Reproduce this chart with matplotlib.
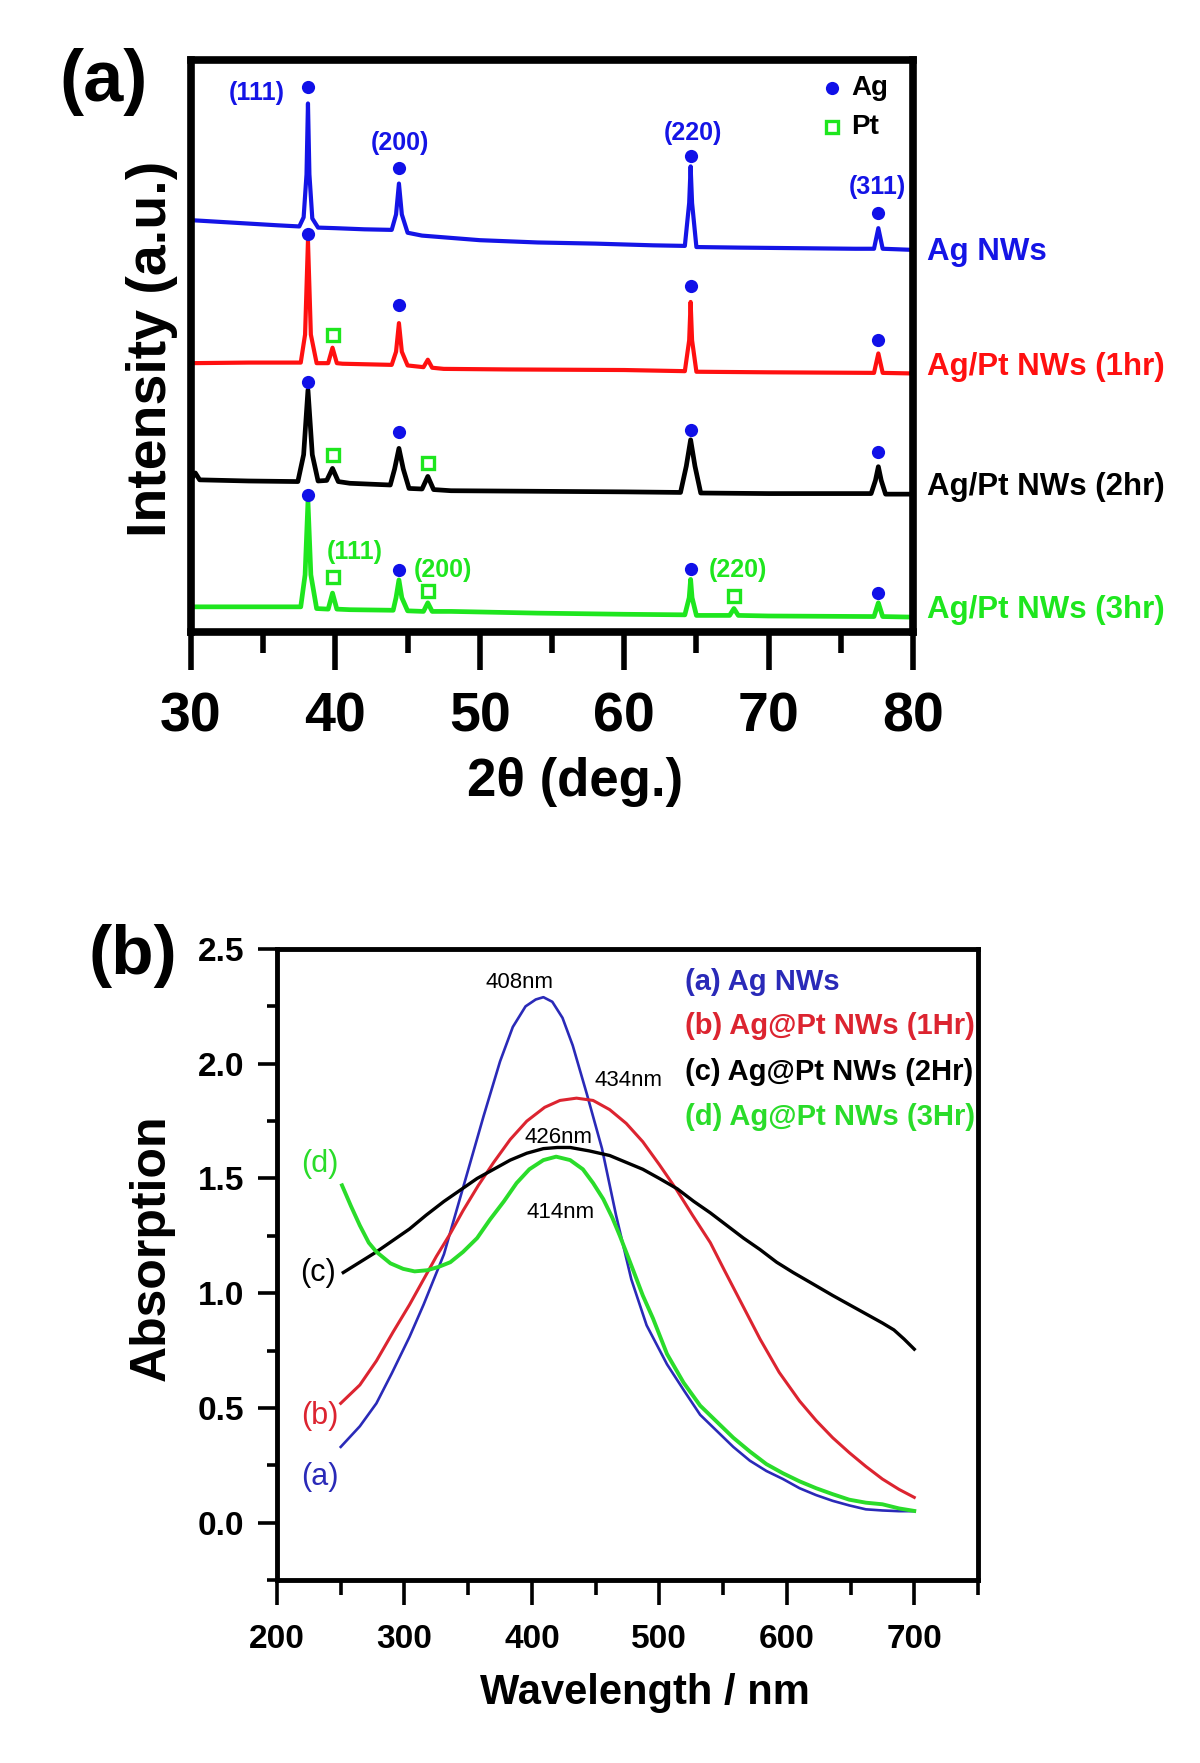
import matplotlib
matplotlib.use('Agg')
import matplotlib.pyplot as plt
from matplotlib.ticker import MultipleLocator, FormatStrFormatter

plt.rcParams['font.family'] = ['Liberation Sans', 'DejaVu Sans']

# ---------------- (a) XRD traces, vertices ----------------
# intensities are stacked arbitrary units (0..100 over the frame)
tth_ag = [30, 32, 34, 36, 37.5, 37.8, 38.0, 38.1, 38.2, 38.4, 38.8, 40, 42, 43.9, 44.2, 44.4, 44.6,
          45.0, 46, 48, 50, 54, 58, 62, 64.2, 64.5, 64.6, 64.7, 65.0, 68, 72, 76, 77.3, 77.6, 77.9, 79, 80]
int_ag = [72.0, 71.7, 71.4, 71.1, 70.9, 72.5, 80, 92.4, 80, 72.3, 70.7, 70.6, 70.4, 70.3, 73, 78.4, 73,
          69.8, 69.3, 68.9, 68.5, 68.1, 67.9, 67.6, 67.5, 75, 81.4, 75, 67.3, 67.2, 67.1, 67.0, 67.0, 70.6, 67.0, 66.9, 66.8]

tth_1h = [30, 34, 37.6, 37.9, 38.1, 38.3, 38.7, 39.5, 39.8, 40.1, 40.5, 43.9, 44.2, 44.4, 44.6, 45.0,
          46.1, 46.4, 46.7, 47.5, 52, 60, 64.2, 64.5, 64.6, 64.7, 65.0, 70, 77.3, 77.6, 77.9, 80]
int_1h = [47.0, 47.1, 47.1, 52, 68.4, 52, 47.0, 47.0, 49.7, 47.0, 46.9, 46.7, 49, 54.0, 49, 46.6,
          46.3, 47.6, 46.2, 46.0, 45.9, 45.8, 45.6, 51, 57.7, 51, 45.5, 45.4, 45.3, 48.7, 45.3, 45.2]

tth_2h = [30, 30.3, 30.6, 34, 37.4, 37.8, 38.1, 38.4, 38.8, 39.4, 39.8, 40.2, 41, 43.8, 44.1, 44.4, 44.7,
          45.1, 46.0, 46.4, 46.8, 48, 54, 60, 63.9, 64.3, 64.6, 64.9, 65.3, 70, 77.1, 77.4, 77.6, 77.8, 78.1, 80]
int_2h = [26.6, 27.8, 26.6, 26.4, 26.3, 31, 42.3, 31, 26.4, 26.5, 28.6, 26.3, 26.0, 25.7, 28.5, 32.1, 28.5,
          25.1, 25.0, 27.2, 24.9, 24.7, 24.6, 24.5, 24.4, 29, 33.6, 29, 24.3, 24.2, 24.2, 26.5, 28.9, 26.5, 24.1, 24.1]

tth_3h = [30, 34, 37.6, 37.9, 38.1, 38.3, 38.7, 39.5, 39.8, 40.1, 41, 44.0, 44.2, 44.4, 44.6, 45.0,
          46.1, 46.4, 46.7, 48, 54, 60, 64.2, 64.5, 64.6, 64.7, 65.0, 67.3, 67.6, 67.9, 70, 77.3, 77.6, 77.9, 80]
int_3h = [4.4, 4.4, 4.4, 10, 22.8, 10, 4.1, 4.0, 6.8, 4.0, 3.9, 3.8, 6, 9.1, 6, 3.7,
          3.6, 5.1, 3.6, 3.6, 3.3, 3.1, 3.0, 6, 9.2, 6, 2.9, 2.9, 4.1, 2.9, 2.8, 2.7, 5.1, 2.7, 2.6]

ag_pos = [38.1, 44.4, 64.6, 77.6]
dot_ag = [95.3, 81.2, 83.3, 73.2]
dot_1h = [69.6, 57.2, 60.5, 51.0]
dot_2h = [43.7, 35.0, 35.3, 31.5]
dot_3h = [24.0, 10.8, 11.1, 6.8]

pt_pos_1h, sq_1h = [39.8], [51.9]
pt_pos_2h, sq_2h = [39.8, 46.4], [30.9, 29.5]
pt_pos_3h, sq_3h = [39.8, 46.4, 67.6], [9.7, 7.2, 6.3]

xrd_names = ['Ag NWs', 'Ag/Pt NWs (1hr)', 'Ag/Pt NWs (2hr)', 'Ag/Pt NWs (3hr)']

# ---------------- (b) UV-vis absorption ----------------
wl_a = [250, 265, 278, 290, 304, 315, 323, 331, 346, 362, 375, 385, 395, 403, 409, 416, 424, 432, 443,
        455, 466, 478, 490, 506, 520, 532, 545, 558, 571, 584, 597, 610, 623, 636, 649, 662, 675, 688, 700]
abs_a = [0.33, 0.42, 0.52, 0.65, 0.81, 0.95, 1.06, 1.17, 1.46, 1.77, 2.01, 2.16, 2.25, 2.28, 2.29, 2.27, 2.20, 2.08, 1.87,
         1.63, 1.34, 1.06, 0.86, 0.69, 0.57, 0.47, 0.40, 0.33, 0.27, 0.225, 0.19, 0.15, 0.12, 0.095, 0.075, 0.058, 0.053, 0.05, 0.05]

wl_b = [250, 265, 278, 291, 304, 315, 325, 336, 346, 358, 370, 383, 396, 410, 422, 435, 448, 461, 474,
        487, 500, 513, 526, 540, 551, 565, 579, 594, 610, 623, 636, 649, 662, 675, 688, 700]
abs_b = [0.52, 0.60, 0.705, 0.83, 0.95, 1.06, 1.16, 1.26, 1.36, 1.47, 1.57, 1.67, 1.75, 1.81, 1.84, 1.85, 1.84, 1.80, 1.74,
         1.66, 1.56, 1.455, 1.34, 1.22, 1.10, 0.95, 0.80, 0.655, 0.53, 0.445, 0.37, 0.305, 0.245, 0.19, 0.145, 0.11]

wl_c = [252, 265, 278, 291, 304, 317, 331, 344, 357, 370, 383, 396, 409, 420, 430, 445, 461, 474, 487, 500,
        514, 527, 540, 553, 566, 579, 592, 605, 619, 636, 649, 662, 675, 684, 692, 700]
abs_c = [1.09, 1.135, 1.18, 1.23, 1.28, 1.34, 1.40, 1.45, 1.50, 1.54, 1.58, 1.61, 1.63, 1.635, 1.635, 1.62, 1.60, 1.57, 1.54, 1.50,
         1.455, 1.40, 1.35, 1.295, 1.24, 1.19, 1.135, 1.09, 1.045, 0.99, 0.95, 0.91, 0.87, 0.84, 0.80, 0.756]

wl_d = [251, 258, 265, 272, 278, 289, 299, 308, 318, 327, 336, 346, 357, 367, 378, 388, 398, 409, 419, 430,
        440, 448, 456, 463, 469, 476, 482, 487, 495, 506, 519, 532, 545, 558, 571, 584, 597, 610, 623, 636,
        649, 662, 675, 688, 700]
abs_d = [1.47, 1.38, 1.295, 1.22, 1.18, 1.13, 1.106, 1.095, 1.10, 1.115, 1.135, 1.18, 1.24, 1.32, 1.40, 1.48, 1.54, 1.58, 1.595, 1.58,
         1.54, 1.48, 1.41, 1.33, 1.25, 1.15, 1.063, 0.99, 0.89, 0.735, 0.61, 0.51, 0.44, 0.37, 0.31, 0.255, 0.215, 0.18, 0.15, 0.124,
         0.10, 0.087, 0.08, 0.062, 0.051]

uv_names = ['(a) Ag NWs', '(b) Ag@Pt NWs (1Hr)', '(c) Ag@Pt NWs (2Hr)', '(d) Ag@Pt NWs (3Hr)']
peak_notes = [('408nm', 389.9, 2.355), ('434nm', 475.4, 1.927), ('426nm', 420.5, 1.678), ('414nm', 422.8, 1.351)]

W, H = 1200, 1763
fig = plt.figure(figsize=(W / 100, H / 100), dpi=100)

# ============ panel (a) ============
XB, XR, XK, XG = '#1414e6', '#ff1010', '#000000', '#1ee61e'
ax = fig.add_axes([191 / W, 1 - 632 / H, (913 - 191) / W, (632 - 60) / H])
ax.plot(tth_ag, int_ag, color=XB, lw=3.0)
ax.plot(tth_1h, int_1h, color=XR, lw=3.0)
ax.plot(tth_2h, int_2h, color=XK, lw=3.4)
ax.plot(tth_3h, int_3h, color=XG, lw=3.4)
for dots in (dot_ag, dot_1h, dot_2h, dot_3h):
    ax.plot(ag_pos, dots, 'o', color='#1010e8', ms=9.5, mec='none')
for pos, sq in ((pt_pos_1h, sq_1h), (pt_pos_2h, sq_2h), (pt_pos_3h, sq_3h)):
    ax.plot(pos, sq, 's', mfc='white', mec=XG, mew=2.4, ms=8)

ax.set_xlim(30, 80)
ax.set_ylim(0, 100)
ax.xaxis.set_major_locator(MultipleLocator(10))
ax.xaxis.set_minor_locator(MultipleLocator(5))
ax.tick_params(axis='x', which='major', direction='out', length=27, width=4, pad=16,
               labelsize=40)
ax.tick_params(axis='x', which='minor', direction='out', length=15, width=4)
ax.tick_params(axis='y', left=False, labelleft=False)
for lab in ax.get_xticklabels():
    lab.set_fontweight('bold')
for sp in ax.spines.values():
    sp.set_linewidth(5.5)

hkl_kw = dict(fontsize=18, fontweight='bold', ha='center', va='center')
ax.text(34.57, 94.2, '(111)', color=XB, **hkl_kw)
ax.text(44.47, 85.5, '(200)', color=XB, **hkl_kw)
ax.text(64.76, 87.2, '(220)', color=XB, **hkl_kw)
ax.text(77.5, 77.8, '(311)', color=XB, **hkl_kw)
ax.text(41.36, 14.0, '(111)', color=XG, **hkl_kw)
ax.text(47.45, 10.8, '(200)', color=XG, **hkl_kw)
ax.text(67.88, 10.8, '(220)', color=XG, **hkl_kw)

# legend built by hand
ax.plot([74.39], [95.1], 'o', color='#1010e8', ms=9.5, mec='none')
ax.plot([74.39], [88.3], 's', mfc='white', mec=XG, mew=2.4, ms=8)
ax.text(75.7, 95.1, 'Ag', fontsize=20, fontweight='bold', va='center', ha='left')
ax.text(75.7, 88.3, 'Pt', fontsize=20, fontweight='bold', va='center', ha='left')

for name, yy, c in zip(xrd_names, [66.4, 46.3, 25.3, 3.8], [XB, XR, XK, XG]):
    ax.text(81.0, yy, name, color=c, fontsize=22.5, fontweight='bold',
            va='center', ha='left', clip_on=False)

fig.text(575 / W, 1 - 782 / H, '2θ (deg.)', fontsize=38, fontweight='bold', ha='center', va='center')
fig.text(152 / W, 1 - 349 / H, 'Intensity (a.u.)', fontsize=40, fontweight='bold',
         rotation=90, ha='center', va='center')
fig.text(104 / W, 1 - 82 / H, '(a)', fontsize=52, fontweight='bold', ha='center', va='center')

# ============ panel (b) ============
UB, UR, UK, UG = '#2a2ab8', '#dc2430', '#000000', '#2adc2a'
bx = fig.add_axes([277 / W, 1 - 1580 / H, (978 - 277) / W, (1580 - 949) / H])
bx.plot(wl_a, abs_a, color=UB, lw=1.9)
bx.plot(wl_b, abs_b, color=UR, lw=2.2)
bx.plot(wl_c, abs_c, color=UK, lw=2.4)
bx.plot(wl_d, abs_d, color=UG, lw=2.8)

bx.set_xlim(200, 750)
bx.set_ylim(-0.25, 2.5)
bx.xaxis.set_major_locator(MultipleLocator(100))
bx.xaxis.set_minor_locator(MultipleLocator(50))
bx.yaxis.set_major_locator(MultipleLocator(0.5))
bx.yaxis.set_minor_locator(MultipleLocator(0.25))
bx.yaxis.set_major_formatter(FormatStrFormatter('%.1f'))
bx.set_xticks([200, 300, 400, 500, 600, 700])
bx.tick_params(axis='x', which='major', direction='out', length=18, width=2.6, pad=14, labelsize=24)
bx.tick_params(axis='x', which='minor', direction='out', length=11, width=2.6)
bx.tick_params(axis='y', which='major', direction='out', length=13.5, width=2.6, pad=10, labelsize=24)
bx.tick_params(axis='y', which='minor', direction='out', length=7, width=2.6)
for lab in bx.get_xticklabels() + bx.get_yticklabels():
    lab.set_fontweight('bold')
for sp in bx.spines.values():
    sp.set_linewidth(3.5)

for txt, xx, yy in peak_notes:
    bx.text(xx, yy, txt, fontsize=16, ha='center', va='center')

for name, yy, c in zip(uv_names, [2.355, 2.163, 1.962, 1.766], [UB, UR, UK, UG]):
    bx.text(520.1, yy, name, color=c, fontsize=21, fontweight='bold', ha='left', va='center')

tag_kw = dict(fontsize=22, ha='center', va='center')
bx.text(233.7, 1.565, '(d)', color=UG, **tag_kw)
bx.text(232.2, 1.09, '(c)', color=UK, **tag_kw)
bx.text(233.7, 0.465, '(b)', color=UR, **tag_kw)
bx.text(233.7, 0.20, '(a)', color=UB, **tag_kw)

fig.text(645 / W, 1 - 1693 / H, 'Wavelength / nm', fontsize=30, fontweight='bold', ha='center', va='center')
fig.text(152 / W, 1 - 1248 / H, 'Absorption', fontsize=36, fontweight='bold',
         rotation=90, ha='center', va='center')
fig.text(133 / W, 1 - 956 / H, '(b)', fontsize=50, fontweight='bold', ha='center', va='center')

fig.savefig('out.png', dpi=100)
